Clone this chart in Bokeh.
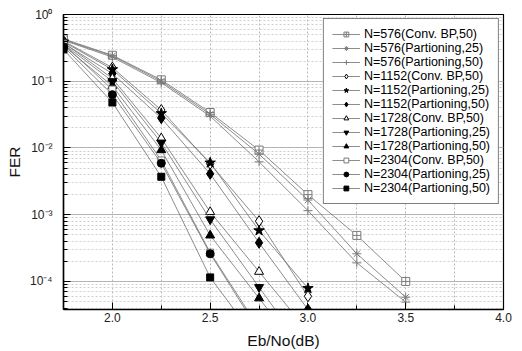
from bokeh.plotting import figure
from bokeh.models import (Range1d, FixedTicker, CustomJSTickFormatter, Legend,
                          LegendItem, ColumnDataSource)
from bokeh.embed import file_html
from bokeh.resources import INLINE

# ---------------- data ----------------
ebno_576 = [1.75, 2.0, 2.25, 2.5, 2.75, 3.0, 3.25, 3.5]
ebno_1152 = [1.75, 2.0, 2.25, 2.5, 2.75, 3.0]
ebno_1728 = [1.75, 2.0, 2.25, 2.5, 2.75, 3.0]
ebno_2304 = [1.75, 2.0, 2.25, 2.5, 2.75]

fer_576_conv = [0.43, 0.245, 0.105, 0.034, 0.0093, 0.0020, 0.00049, 0.00010]
fer_576_p25 = [0.42, 0.240, 0.100, 0.032, 0.0081, 0.00166, 0.00026, 0.000058]
fer_576_p50 = [0.41, 0.230, 0.095, 0.030, 0.0062, 0.00115, 0.00019, 0.000049]

fer_1152_conv = [0.40, 0.160, 0.037, 0.0058, 0.00080, 0.000060]
fer_1152_p25 = [0.39, 0.150, 0.033, 0.0060, 0.00058, 0.000079]
fer_1152_p50 = [0.37, 0.130, 0.028, 0.0041, 0.00038, 0.000038]

fer_1728_conv = [0.38, 0.110, 0.014, 0.0011, 0.00014, 0.000018]
fer_1728_p25 = [0.36, 0.100, 0.012, 0.00085, 0.000082, 0.000008]
fer_1728_p50 = [0.34, 0.085, 0.0093, 0.00049, 0.000056, 0.0000065]

fer_2304_conv = [0.36, 0.075, 0.0065, 0.00027, 0.000020]
fer_2304_p25 = [0.33, 0.063, 0.0059, 0.00026, 0.000018]
fer_2304_p50 = [0.30, 0.048, 0.0037, 0.000115, 0.000012]

series_labels = [
    "N=576(Conv. BP,50)", "N=576(Partioning,25)", "N=576(Partioning,50)",
    "N=1152(Conv. BP,50)", "N=1152(Partioning,25)", "N=1152(Partioning,50)",
    "N=1728(Conv. BP,50)", "N=1728(Partioning,25)", "N=1728(Partioning,50)",
    "N=2304(Conv. BP,50)", "N=2304(Partioning,25)", "N=2304(Partioning,50)",
]

x_major_ticks = [2.0, 2.5, 3.0, 3.5, 4.0]
x_minor_ticks = [1.75, 2.25, 2.75, 3.25, 3.75]
y_major_ticks = [1e-4, 1e-3, 1e-2, 1e-1, 1.0]
y_minor_ticks = [m * 10.0 ** e for e in range(-5, 0) for m in range(2, 10)]

x_label = "Eb/No(dB)"
y_label = "FER"

series_x = [ebno_576] * 3 + [ebno_1152] * 3 + [ebno_1728] * 3 + [ebno_2304] * 3
series_y = [fer_576_conv, fer_576_p25, fer_576_p50,
            fer_1152_conv, fer_1152_p25, fer_1152_p50,
            fer_1728_conv, fer_1728_p25, fer_1728_p50,
            fer_2304_conv, fer_2304_p25, fer_2304_p50]

# ---------------- styles ----------------
GRAY = "#7a7a7a"
LINE = "#707070"
styles = [
    dict(marker="square_cross", size=8, line_color=GRAY, fill_color="white"),
    dict(marker="asterisk", size=9, line_color=GRAY, fill_color=GRAY),
    dict(marker="cross", size=9, line_color=GRAY, fill_color=GRAY),
    dict(marker="diamond", size=11, line_color="black", fill_color="white"),
    dict(marker="star", size=11, line_color="black", fill_color="black"),
    dict(marker="diamond", size=11, line_color="black", fill_color="black"),
    dict(marker="triangle", size=9, line_color="black", fill_color="white"),
    dict(marker="inverted_triangle", size=9, line_color="black", fill_color="black"),
    dict(marker="triangle", size=9, line_color="black", fill_color="black"),
    dict(marker="square", size=7, line_color=GRAY, fill_color="white"),
    dict(marker="circle", size=8, line_color="black", fill_color="black"),
    dict(marker="square", size=7, line_color="black", fill_color="black"),
]

FONT = "Liberation Sans"

p = figure(width=522, height=351, y_axis_type="log",
           x_range=Range1d(1.75, 4.0), y_range=Range1d(3.8e-5, 1.0),
           output_backend="svg", toolbar_location=None,
           min_border_left=63, min_border_right=19,
           min_border_top=14, min_border_bottom=41)

p.outline_line_color = "black"
p.outline_line_width = 1.2
p.background_fill_color = "white"

# axes
p.xaxis.ticker = FixedTicker(ticks=x_major_ticks, minor_ticks=x_minor_ticks)
p.yaxis.ticker = FixedTicker(ticks=y_major_ticks, minor_ticks=y_minor_ticks)
p.xaxis.formatter = CustomJSTickFormatter(code="return tick.toFixed(1);")
p.yaxis.formatter = CustomJSTickFormatter(code="""
const sup = {'0':'\u2070','1':'\u00b9','2':'\u00b2','3':'\u00b3','4':'\u2074',
             '5':'\u2075','6':'\u2076','7':'\u2077','8':'\u2078','9':'\u2079','-':'\u207b'};
const e = Math.round(Math.log10(tick));
return '10' + String(e).split('').map(c => sup[c]).join('');
""")

for ax in (p.xaxis[0], p.yaxis[0]):
    ax.axis_line_color = "black"
    ax.axis_line_width = 1.5
    ax.major_tick_line_color = "black"
    ax.minor_tick_line_color = "black"
    ax.major_tick_in = 7
    ax.major_tick_out = 0
    ax.minor_tick_in = 4
    ax.minor_tick_out = 0
    ax.major_label_text_font = FONT
    ax.major_label_text_font_size = "12px"
    ax.major_label_text_color = "#222222"
    ax.axis_label_text_font = FONT
    ax.axis_label_text_font_size = "15.5px"
    ax.axis_label_text_font_style = "normal"
    ax.axis_label_text_color = "#111111"

p.xaxis.axis_label = x_label
p.yaxis.axis_label = y_label
p.xaxis.major_label_standoff = 3
p.xaxis.axis_label_standoff = 7
p.yaxis.major_label_standoff = 11
p.yaxis.axis_label_standoff = 4

# grids
p.xgrid.grid_line_color = "#b8b8b8"
p.xgrid.grid_line_dash = "2 2"
p.xgrid.minor_grid_line_color = "#b8b8b8"
p.xgrid.minor_grid_line_dash = "2 2"
p.ygrid.grid_line_color = "#b4b4b4"
p.ygrid.grid_line_width = 1
p.ygrid.minor_grid_line_color = "#cfcfcf"
p.ygrid.minor_grid_line_dash = "2 2"

# series
items = []
for xs, ys, lab, st in zip(series_x, series_y, series_labels, styles):
    src = ColumnDataSource(dict(x=xs, y=ys))
    rl = p.line("x", "y", source=src, line_color=LINE, line_width=0.8)
    rm = p.scatter("x", "y", source=src, marker=st["marker"], size=st["size"],
                   line_color=st["line_color"], fill_color=st["fill_color"],
                   line_width=1)
    items.append(LegendItem(label=lab, renderers=[rl, rm]))

legend = Legend(items=items, location="top_right")
legend.margin = 4
legend.padding = 8
legend.spacing = -4
legend.glyph_height = 12
legend.glyph_width = 28
legend.label_height = 12
legend.label_standoff = 4
legend.label_text_font = FONT
legend.label_text_font_size = "12.5px"
legend.label_text_color = "black"
legend.border_line_color = "black"
legend.border_line_width = 1.2
legend.background_fill_color = "white"
legend.background_fill_alpha = 1.0
p.add_layout(legend, "center")

open("out.html", "w").write(file_html(p, INLINE))
